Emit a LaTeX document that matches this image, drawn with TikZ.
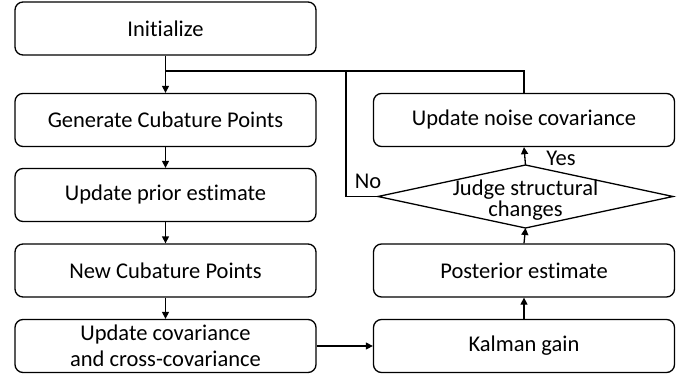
\documentclass[tikz,border=0pt]{standalone}
\usepackage{fontspec}
\setmainfont{Carlito}[Ligatures={NoCommon}]
\usetikzlibrary{arrows.meta}
\tikzset{
  flowbox/.style={draw, line width=1.3pt, rounded corners=8pt, rectangle,
    minimum width=301pt, minimum height=53pt, inner sep=0pt, align=center,
    font=\fontsize{22.5}{26}\selectfont},
  decisiontext/.style={inner sep=0pt, align=center,
    font=\fontsize{22.5}{21}\selectfont},
  link/.style={line width=1.3pt},
  flow/.style={line width=1.3pt, -{Triangle[length=7pt,width=7pt]}},
  tag/.style={font=\fontsize{22.5}{26}\selectfont, inner sep=0pt}
}
\begin{document}
\begin{tikzpicture}[x=1pt, y=-1pt]
\useasboundingbox (0,0) rectangle (696,377);

% left column
\node[flowbox] (init) at (165.5,28.5) {Initialize};
\node[flowbox] (gen)  at (165.5,120)  {Generate Cubature Points};
\node[flowbox] (prior) at (165.5,195) {Update prior estimate};
\node[flowbox] (newpts) at (165.5,270.5) {New Cubature Points};
\node[flowbox] (cov) at (165.5,346) {Update covariance\\and cross-covariance};

% right column
\node[flowbox] (noise) at (524,120) {Update noise covariance};
\node[flowbox] (post) at (524,270.5) {Posterior estimate};
\node[flowbox] (kalman) at (524,346) {Kalman gain};

% decision diamond
\coordinate (judgeN) at (525.5,165);
\coordinate (judgeS) at (525.5,228);
\coordinate (judgeW) at (378,196.5);
\coordinate (judgeE) at (673,196.5);
\draw[link, line join=miter] (judgeN) -- (judgeE) -- (judgeS) -- (judgeW) -- cycle;
\node[decisiontext] (judge) at (525.5,200) {Judge structural\\changes};

% feedback junction above the cubature step
\coordinate (join) at (165.5,71);
\coordinate (nobend) at (346,71);

% main chain
\draw[flow] (init) -- (gen);
\draw[flow] (gen) -- (prior);
\draw[flow] (prior) -- (newpts);
\draw[flow] (newpts) -- (cov);
\draw[flow] (cov.east) -- (kalman.west);
\draw[flow] (kalman) -- (post);
\draw[flow] (post.north) -- (judgeS);
\draw[flow] (judgeN) -- (noise.south);

% feedback paths
\draw[link] (noise.north) |- (join);
\draw[link] (judgeW) -| (nobend);

% branch labels
\node[tag] (yes) at (561,158) {Yes};
\node[tag] (no)  at (368,181) {No};
\end{tikzpicture}
\end{document}
